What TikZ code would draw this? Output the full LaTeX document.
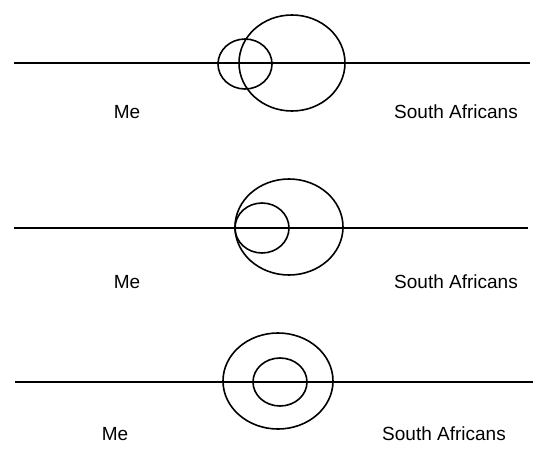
\documentclass[tikz,border=0pt]{standalone}
\usepackage{fontspec}
\setmainfont{Liberation Sans}
\usetikzlibrary{shapes.geometric}

\begin{document}
\begin{tikzpicture}[x=1pt, y=-1pt,
      ring/.style={draw, ellipse, line width=1.6pt, inner sep=0pt, outer sep=0pt},
      axis/.style={line width=1.8pt},
      lbl/.style={anchor=base, inner sep=0pt, font=\fontsize{19pt}{22pt}\selectfont}]
    \useasboundingbox (0,0) rectangle (533,450);
    % row 1: overlapping
    \coordinate (l1) at (14,63);
    \coordinate (r1) at (530,63);
    \draw[axis] (l1) -- (r1);
    \node[ring, minimum width=54pt, minimum height=50pt] (me1) at (245,64) {};
    \node[ring, minimum width=106pt, minimum height=96pt] (sa1) at (292,63) {};
    \node[lbl] (tme1) at (127,118) {Me};
    \node[lbl] (tsa1) at (456,118) {South Africans};
    % row 2: inside, touching
    \coordinate (l2) at (14,228);
    \coordinate (r2) at (528,228);
    \draw[axis] (l2) -- (r2);
    \node[ring, minimum width=108pt, minimum height=96pt] (sa2) at (289,227) {};
    \node[ring, minimum width=54pt, minimum height=50pt] (me2) at (262,228) {};
    \node[lbl] (tme2) at (127,288) {Me};
    \node[lbl] (tsa2) at (456,288) {South Africans};
    % row 3: centred
    \coordinate (l3) at (15,382);
    \coordinate (r3) at (533,382);
    \draw[axis] (l3) -- (r3);
    \node[ring, minimum width=110pt, minimum height=96pt] (sa3) at (278,381) {};
    \node[ring, minimum width=54pt, minimum height=48pt] (me3) at (280,382) {};
    \node[lbl] (tme3) at (115,440) {Me};
    \node[lbl] (tsa3) at (444,440) {South Africans};
  \end{tikzpicture}
\end{document}
